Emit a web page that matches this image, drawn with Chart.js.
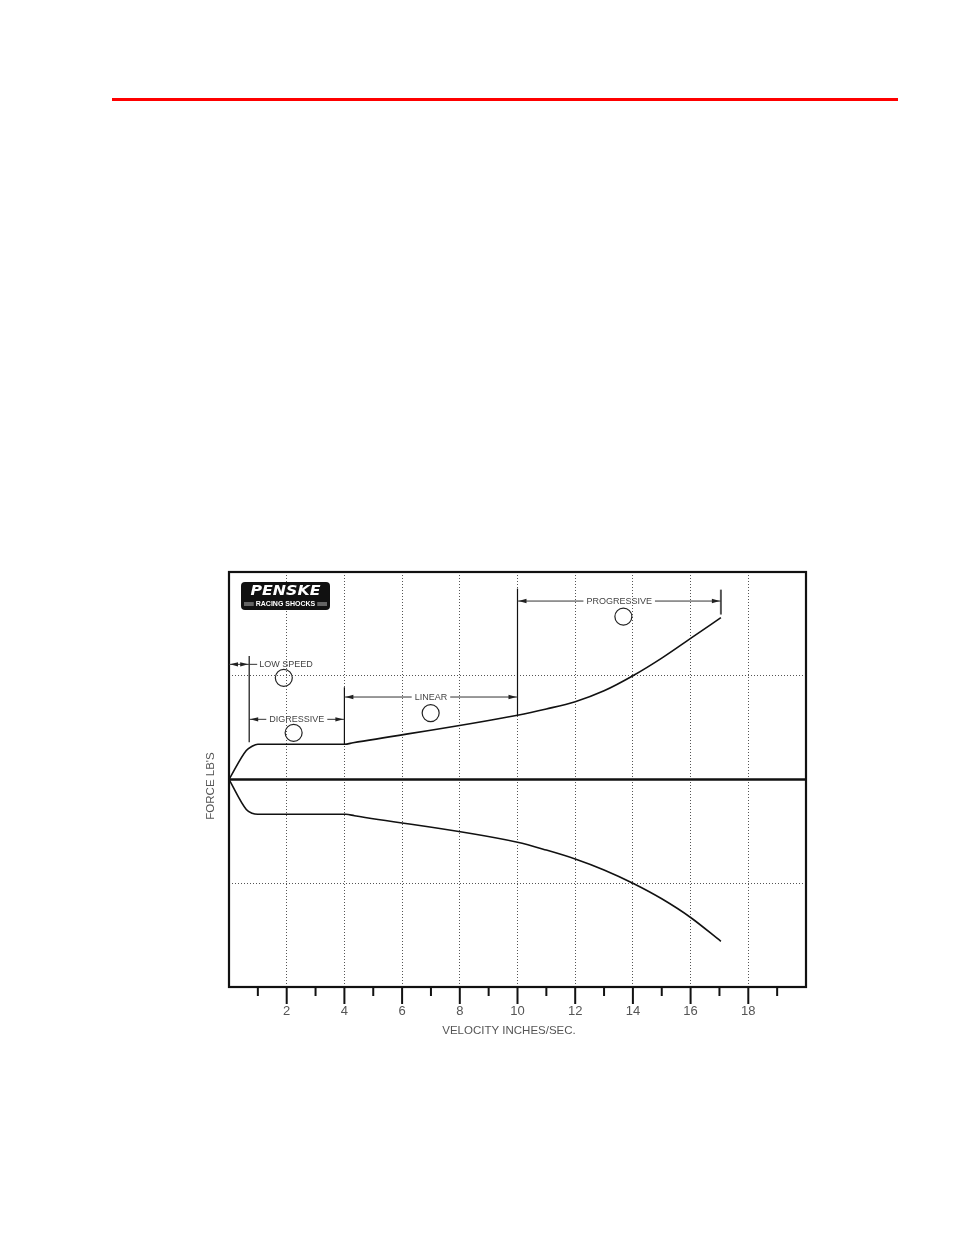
<!DOCTYPE html>
<html>
<head>
<meta charset="utf-8">
<title>Penske shock force / velocity curve</title>
<script src="https://cdn.jsdelivr.net/npm/chart.js@4.4.1/dist/chart.umd.min.js"></script>
<style>
    html, body { margin: 0; padding: 0; background: #fff; }
    #page { position: relative; width: 954px; height: 1235px; overflow: hidden; background: #fff; }
    #rule { position: absolute; left: 112px; top: 98px; width: 786px; height: 3px; background: #ff0000; }
    #dyno { position: absolute; left: 0; top: 0; }
</style>
</head>
<body>
<div id="page">
    <div id="rule"></div>
    <canvas id="dyno" width="954" height="1235"></canvas>
</div>
<script>
// DATA (velocity in/sec, force in grid units)
const compressionX = [0, 0.6, 0.8, 1.0, 4.0, 4.3, 10, 11, 12, 13, 14, 15, 16, 17.05];
const compressionY = [0, 0.28, 0.32, 0.34, 0.34, 0.354, 0.62, 0.68, 0.75, 0.855, 1.0, 1.17, 1.36, 1.56];
const reboundX = [0, 0.6, 0.8, 1.0, 4.05, 4.35, 10, 11, 12, 13, 14, 15, 16, 17.05];
const reboundY = [0, -0.29, -0.325, -0.335, -0.335, -0.349, -0.605, -0.68, -0.766, -0.872, -1.0, -1.15, -1.33, -1.56];

const xTickLabels = ["2", "4", "6", "8", "10", "12", "14", "16", "18"];

// ZONES (dimension lines above the curve)
const zoneNames = ["LOW SPEED", "DIGRESSIVE", "LINEAR", "PROGRESSIVE"];
const zoneFrom = [0, 0.7, 4, 10];
const zoneTo = [0.7, 4, 10, 17.05];
const zoneLevel = [1.11, 0.58, 0.795, 1.72];
const markerX = [1.9, 2.24, 6.99, 13.67];
const markerY = [0.98, 0.45, 0.64, 1.57];
const witnessX = [0.7, 4, 10, 17.05];
const witnessTop = [1.19, 0.89, 1.84, 1.83];
const witnessBottom = [0.36, 0.34, 0.62, 1.59];

const toPoints = (xs, ys) => xs.map((v, i) => ({ x: v, y: ys[i] }));

// ARROW HEAD (dir -1 points left, 1 points right)
function arrowHead(ctx, px, py, dir) {
    ctx.beginPath();
    ctx.moveTo(px, py);
    ctx.lineTo(px - dir * 8, py - 2.2);
    ctx.lineTo(px - dir * 8, py + 2.2);
    ctx.closePath();
    ctx.fill();
}

function hLine(ctx, xa, xb, py) {
    ctx.beginPath();
    ctx.moveTo(xa, py);
    ctx.lineTo(xb, py);
    ctx.stroke();
}

const sketchPlugin = {
    id: "sketch",
    afterDraw(chart) {
        const { ctx, chartArea: a, scales: { x, y } } = chart;
        ctx.save();

        // frame + zero line
        ctx.strokeStyle = "#111";
        ctx.lineWidth = 2.2;
        ctx.strokeRect(a.left, a.top, a.right - a.left, a.bottom - a.top);
        ctx.lineWidth = 2.6;
        hLine(ctx, a.left, a.right, y.getPixelForValue(0));

        // tick marks under the frame
        ctx.lineWidth = 2;
        for (let v = 1; v < 20; v++) {
            const px = x.getPixelForValue(v);
            ctx.beginPath();
            ctx.moveTo(px, a.bottom);
            ctx.lineTo(px, a.bottom + (v % 2 === 0 ? 17 : 9));
            ctx.stroke();
        }

        // witness lines
        witnessX.forEach((wx, i) => {
            const px = x.getPixelForValue(wx);
            ctx.strokeStyle = i === 3 ? "#555" : "#111";
            ctx.lineWidth = i === 3 ? 2 : 1.2;
            ctx.beginPath();
            ctx.moveTo(px, y.getPixelForValue(witnessTop[i]));
            ctx.lineTo(px, y.getPixelForValue(witnessBottom[i]));
            ctx.stroke();
        });

        // dimension lines + labels
        ctx.font = "9px 'Liberation Sans'";
        ctx.textBaseline = "middle";
        zoneNames.forEach((name, i) => {
            const x1 = x.getPixelForValue(zoneFrom[i]);
            const x2 = x.getPixelForValue(zoneTo[i]);
            const py = y.getPixelForValue(zoneLevel[i]);
            const w = ctx.measureText(name).width;
            ctx.strokeStyle = "#333";
            ctx.fillStyle = "#222";
            ctx.lineWidth = 1;
            let tx;
            if (i === 0) {
                tx = x2 + 10;
                hLine(ctx, x1, x2 + 8, py);
            } else {
                tx = (x1 + x2) / 2 - w / 2;
                hLine(ctx, x1, tx - 3, py);
                hLine(ctx, tx + w + 3, x2, py);
            }
            arrowHead(ctx, x1 + 1, py, -1);
            arrowHead(ctx, x2 - 1, py, 1);
            ctx.fillStyle = "#444";
            ctx.textAlign = "left";
            ctx.fillText(name, tx, py);

            // callout circle
            ctx.strokeStyle = "#222";
            ctx.lineWidth = 1.2;
            ctx.beginPath();
            ctx.arc(x.getPixelForValue(markerX[i]), y.getPixelForValue(markerY[i]), 8.5, 0, Math.PI * 2);
            ctx.stroke();
        });

        // logo
        const lx = a.left + 12, ly = a.top + 10, lw = 89, lh = 28;
        ctx.fillStyle = "#111";
        ctx.beginPath();
        ctx.roundRect(lx, ly, lw, lh, 4);
        ctx.fill();
        ctx.fillStyle = "#fff";
        ctx.textAlign = "center";
        ctx.font = "italic bold 14px 'DejaVu Sans'";
        const pw = ctx.measureText("PENSKE").width;
        ctx.save();
        ctx.translate(lx + lw / 2, ly + 9.5);
        ctx.scale(70 / pw, 1);
        ctx.fillText("PENSKE", 0, 0);
        ctx.restore();
        ctx.font = "bold 7px 'Liberation Sans'";
        const rw = ctx.measureText("RACING SHOCKS").width;
        ctx.fillText("RACING SHOCKS", lx + lw / 2, ly + 22);
        ctx.strokeStyle = "#fff";
        ctx.lineWidth = 0.7;
        [21, 23].forEach(dy => {
            hLine(ctx, lx + 3, lx + lw / 2 - rw / 2 - 2, ly + dy);
            hLine(ctx, lx + lw / 2 + rw / 2 + 2, lx + lw - 3, ly + dy);
        });

        // axis titles
        ctx.fillStyle = "#555";
        ctx.font = "11.5px 'Liberation Sans'";
        ctx.textAlign = "center";
        ctx.fillText("VELOCITY INCHES/SEC.", 509, a.bottom + 44);
        ctx.save();
        ctx.translate(211, 786);
        ctx.rotate(-Math.PI / 2);
        ctx.fillText("FORCE LB'S", 0, 0);
        ctx.restore();

        ctx.restore();
    }
};

// CHART
const ctx = document.getElementById("dyno");

if (ctx) {
    new Chart(ctx, {
        type: "line",
        data: {
            datasets: [
                { data: toPoints(compressionX, compressionY) },
                { data: toPoints(reboundX, reboundY) }
            ]
        },
        options: {
            responsive: false,
            animation: false,
            devicePixelRatio: 1,
            layout: { padding: { left: 229, right: 148, top: 572, bottom: 188 } },
            elements: {
                line: { borderColor: "#111", borderWidth: 1.6, cubicInterpolationMode: "monotone", fill: false },
                point: { radius: 0, hoverRadius: 0 }
            },
            scales: {
                x: {
                    type: "linear",
                    min: 0,
                    max: 20,
                    afterFit: s => { s.height = 60; },
                    ticks: {
                        stepSize: 1,
                        autoSkip: false,
                        maxRotation: 0,
                        padding: 17,
                        color: "#555",
                        font: { family: "'Liberation Sans'", size: 13 },
                        callback: v => (v % 2 === 0 && v > 0 && v < 20) ? xTickLabels[v / 2 - 1] : ""
                    },
                    grid: {
                        drawTicks: false,
                        lineWidth: 1,
                        color: c => (c.tick && c.tick.value % 2 === 0 && c.tick.value > 0 && c.tick.value < 20) ? "#555" : "rgba(0,0,0,0)"
                    },
                    border: { display: false, dash: [1, 2] }
                },
                y: {
                    min: -2,
                    max: 2,
                    afterFit: s => { s.width = 0; },
                    ticks: { stepSize: 1, display: false },
                    grid: {
                        drawTicks: false,
                        lineWidth: 1,
                        color: c => (c.tick && Math.abs(c.tick.value) === 1) ? "#555" : "rgba(0,0,0,0)"
                    },
                    border: { display: false, dash: [1, 2] }
                }
            },
            plugins: {
                legend: { display: false },
                tooltip: { enabled: false }
            }
        },
        plugins: [sketchPlugin]
    });
}
</script>
</body>
</html>
